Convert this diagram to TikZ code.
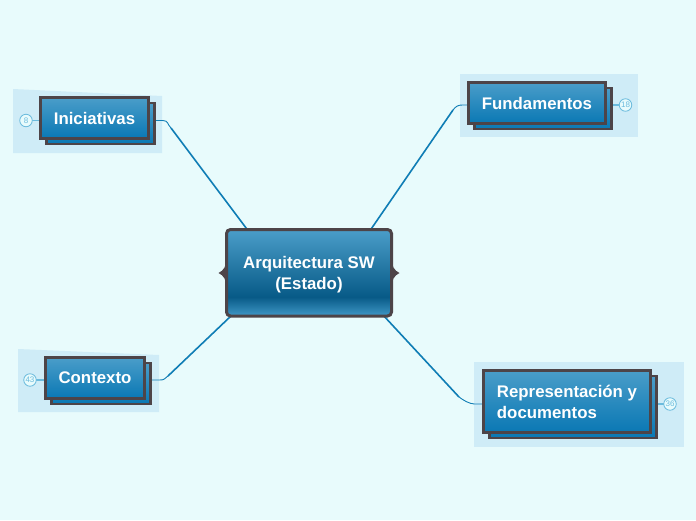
\documentclass[tikz,border=0pt]{standalone}
\usepackage{fontspec}
\setmainfont{Liberation Sans}
\usetikzlibrary{backgrounds}
\pgfdeclarelayer{links}
\pgfsetlayers{background,links,main}
\definecolor{pagebg}{HTML}{E8FBFC}
\definecolor{groupbg}{HTML}{CFECF7}
\definecolor{branchcol}{HTML}{0F7DB5}
\definecolor{edgecol}{HTML}{4D4448}
\definecolor{topcol}{HTML}{4A9DC9}
\definecolor{lowcol}{HTML}{0A78B4}
\definecolor{countcol}{HTML}{6BBBDD}
\pgfdeclareverticalshading{centreshade}{100bp}{color(0bp)=(topcol!85!lowcol); color(25bp)=(topcol!85!lowcol); color(36bp)=(lowcol!75!black); color(75bp)=(topcol); color(100bp)=(topcol)}
\tikzset{
    topicbox/.style={draw=edgecol,line width=2.6pt,top color=topcol,bottom color=lowcol,
        inner sep=0pt,outer sep=0pt,text=white,font=\bfseries\fontsize{16.8}{21}\selectfont,align=left},
    topicback/.style={topicbox,fill=lowcol},
    countnode/.style={circle,draw=countcol,fill=pagebg,line width=0.8pt,minimum size=12.5pt,inner sep=0pt,
        outer sep=0pt,text=countcol,font=\fontsize{8}{8}\selectfont},
    branch/.style={draw=branchcol,line width=0.9pt},
    stem/.style={draw=branchcol,line width=1.6pt},
    tick/.style={draw=countcol,line width=1.4pt}
}
\begin{document}
\begin{tikzpicture}[x=1pt,y=-1pt]
    \useasboundingbox (0,0) rectangle (696,520);
    %group areas
    \begin{pgfonlayer}{background}
        \fill[pagebg] (0,0) rectangle (696,520);
        \fill[groupbg] (13,89) -- (162,96) -- (162,153) -- (13,153) -- cycle;
        \fill[groupbg] (460,74) -- (638,74) -- (638,137) -- (460,137) -- cycle;
        \fill[groupbg] (18,349) -- (159,355) -- (159,412) -- (18,412) -- cycle;
        \fill[groupbg] (474,362) -- (684,362) -- (684,447) -- (474,447) -- cycle;
    \end{pgfonlayer}
    %topics
    \foreach \nm/\cx/\cy/\bw/\bh/\lbl in {ini/94.5/118/108/41/{Iniciativas},
        fun/537/103/137/41/{Fundamentos},
        con/95/378/99/41/{Contexto},
        rep/567/401.5/167/62/{Representación y\\documentos}}{
        \node[topicback,minimum width=\bw pt,minimum height=\bh pt] (\nm back) at (\cx+6,\cy+5.5) {};
        \node[topicbox,minimum width=\bw pt,minimum height=\bh pt] (\nm) at (\cx,\cy) {\lbl};
    }
    %counters
    \node[countnode] (inicount) at (26,120.5) {8};
    \node[countnode] (funcount) at (625.5,105) {18};
    \node[countnode] (concount) at (30,380) {43};
    \node[countnode] (repcount) at (670,404) {36};
    %central topic
    \node[inner sep=0pt,outer sep=0pt,minimum width=165pt,minimum height=86.5pt,rounded corners=4pt,
        shading=centreshade,text=white,align=center,font=\bfseries\fontsize{16.8}{21}\selectfont] (centre) at (309,272.75)
        {\rule{0pt}{15pt}Arquitectura SW\\(Estado)};
    \draw[edgecol,line width=3pt,rounded corners=4pt] (centre.south west) rectangle (centre.north east);
    %braces
    \fill[edgecol] (226.5,257) .. controls (226.5,266) and (224,270.5) .. (218.5,273)
        .. controls (224,275.5) and (226.5,280) .. (226.5,289) -- cycle;
    \fill[edgecol] (391.5,257) .. controls (391.5,266) and (394,270.5) .. (399.5,273)
        .. controls (394,275.5) and (391.5,280) .. (391.5,289) -- cycle;
    %bends
    \coordinate (inibend) at (171,128);
    \coordinate (funbend) at (453,110);
    \coordinate (conbend) at (168,376);
    \coordinate (repbend) at (459,397);
    \begin{pgfonlayer}{links}
        %branches
        \draw[branch] (iniback.east |- inicount) -- +(8,0) .. controls +(6,0) and +(-4,-4) .. (inibend);
        \draw[stem] (inibend) -- (centre.145);
        \draw[branch] (fun.west |- funcount) -- +(-6,0) .. controls +(-4,0) and +(3,-4) .. (funbend);
        \draw[stem] (funbend) -- (centre.35);
        \draw[branch] (conback.east |- concount) -- +(9,0) .. controls +(5,0) and +(-4,3) .. (conbend);
        \draw[stem] (conbend) -- (centre.209);
        \draw[branch] (rep.west |- repcount) -- +(-9,0) .. controls +(-5,0) and +(4,3) .. (repbend);
        \draw[stem] (repbend) -- (centre.-30);
        %ticks
        \draw[tick] (inicount) -- (inicount -| ini.west);
        \draw[tick] (funcount) -- (funcount -| funback.east);
        \draw[tick] (concount) -- (concount -| con.west);
        \draw[tick] (repcount) -- (repcount -| repback.east);
    \end{pgfonlayer}
\end{tikzpicture}
\end{document}
